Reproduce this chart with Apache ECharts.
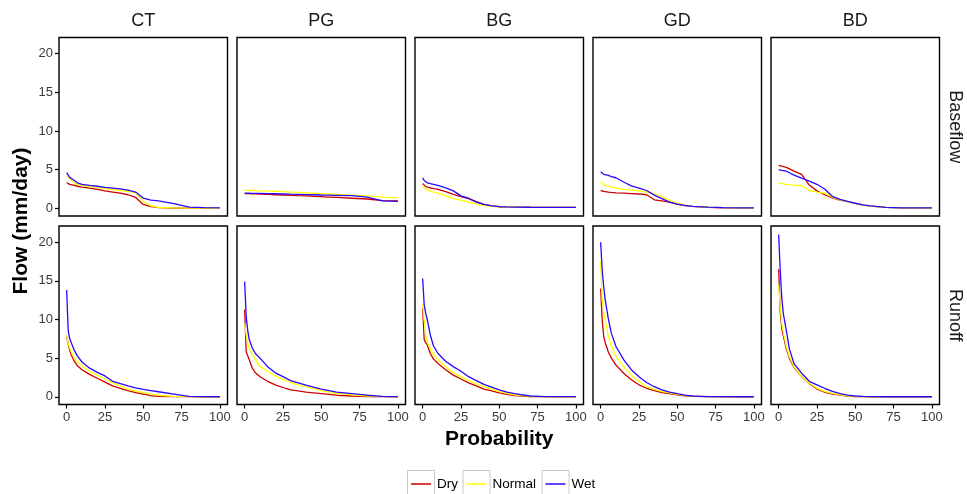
<!DOCTYPE html>
<html>
<head>
<meta charset="utf-8">
<script src="https://cdn.jsdelivr.net/npm/echarts@6/dist/echarts.min.js"></script>
<style>
html,body{margin:0;padding:0;background:#fff;}
#chart{width:967px;height:494px;}
</style>
</head>
<body>
<div id="chart"></div>
<script>
// ---- data ----
var stations = ['CT', 'PG', 'BG', 'GD', 'BD'];
var components = ['Baseflow', 'Runoff'];
var classes = ['Dry', 'Normal', 'Wet'];
var xTicks = [0, 25, 50, 75, 100];
var yTicks = [0, 5, 10, 15, 20];
var prob = [0, 1, 2, 3, 5, 7, 10, 15, 20, 25, 30, 35, 40, 45, 50, 55, 60, 70, 80, 90, 100];

// Baseflow
var ct_base_dry    = [3.3, 3.2, 3.1, 3.05, 2.95, 2.85, 2.75, 2.6, 2.45, 2.25, 2.1, 1.95, 1.75, 1.4, 0.5, 0.2, 0.08, 0.03, 0.02, 0.01, 0.0];
var ct_base_normal = [4.2, 4.0, 3.8, 3.6, 3.3, 3.1, 2.95, 2.8, 2.7, 2.55, 2.4, 2.3, 2.2, 2.0, 0.9, 0.3, 0.1, 0.04, 0.02, 0.01, 0.0];
var ct_base_wet    = [4.6, 4.3, 4.0, 3.9, 3.6, 3.3, 3.1, 2.95, 2.85, 2.7, 2.6, 2.5, 2.35, 2.1, 1.3, 1.05, 0.95, 0.6, 0.15, 0.08, 0.05];

var pg_base_dry    = [1.9, 1.9, 1.9, 1.9, 1.88, 1.87, 1.85, 1.8, 1.75, 1.72, 1.68, 1.63, 1.6, 1.55, 1.5, 1.45, 1.4, 1.3, 1.2, 1.0, 0.95];
var pg_base_normal = [2.35, 2.33, 2.32, 2.3, 2.3, 2.28, 2.25, 2.22, 2.2, 2.15, 2.1, 2.05, 2.0, 1.95, 1.9, 1.85, 1.8, 1.7, 1.6, 1.45, 1.35];
var pg_base_wet    = [1.95, 1.95, 1.95, 1.95, 1.94, 1.93, 1.92, 1.9, 1.88, 1.85, 1.82, 1.8, 1.77, 1.75, 1.72, 1.7, 1.68, 1.64, 1.45, 0.95, 0.9];

var bg_base_dry    = [3.2, 3.0, 2.8, 2.75, 2.65, 2.55, 2.45, 2.15, 1.8, 1.5, 1.25, 0.85, 0.5, 0.3, 0.2, 0.17, 0.15, 0.13, 0.12, 0.12, 0.12];
var bg_base_normal = [2.95, 2.7, 2.45, 2.4, 2.25, 2.1, 1.95, 1.6, 1.25, 1.05, 0.8, 0.55, 0.35, 0.25, 0.2, 0.17, 0.15, 0.13, 0.12, 0.12, 0.12];
var bg_base_wet    = [3.95, 3.6, 3.4, 3.3, 3.2, 3.1, 2.95, 2.65, 2.25, 1.6, 1.3, 0.8, 0.5, 0.3, 0.2, 0.17, 0.15, 0.13, 0.12, 0.12, 0.12];

var gd_base_dry    = [2.3, 2.25, 2.2, 2.15, 2.1, 2.05, 2.0, 1.95, 1.9, 1.85, 1.75, 1.1, 0.95, 0.8, 0.55, 0.35, 0.25, 0.12, 0.06, 0.05, 0.05];
var gd_base_normal = [3.5, 3.2, 3.0, 2.95, 2.85, 2.75, 2.65, 2.45, 2.35, 2.25, 2.1, 1.85, 1.5, 1.05, 0.65, 0.4, 0.25, 0.15, 0.08, 0.05, 0.05];
var gd_base_wet    = [4.73, 4.5, 4.4, 4.35, 4.25, 4.1, 3.95, 3.4, 2.9, 2.6, 2.3, 1.7, 1.25, 0.8, 0.55, 0.38, 0.25, 0.15, 0.08, 0.05, 0.05];

var bd_base_dry    = [5.55, 5.5, 5.45, 5.4, 5.3, 5.1, 4.8, 4.4, 3.0, 2.25, 1.75, 1.35, 1.05, 0.85, 0.62, 0.42, 0.28, 0.12, 0.06, 0.05, 0.05];
var bd_base_normal = [3.3, 3.25, 3.2, 3.15, 3.1, 3.05, 3.0, 2.95, 2.3, 2.1, 1.95, 1.45, 1.1, 0.85, 0.62, 0.42, 0.28, 0.12, 0.06, 0.05, 0.05];
var bd_base_wet    = [5.0, 4.95, 4.9, 4.85, 4.8, 4.6, 4.3, 3.9, 3.5, 3.1, 2.5, 1.55, 1.15, 0.9, 0.65, 0.45, 0.3, 0.12, 0.06, 0.05, 0.05];

// Runoff
var ct_run_dry    = [7.8, 6.8, 6.0, 5.4, 4.6, 4.0, 3.5, 2.9, 2.4, 1.9, 1.4, 1.1, 0.8, 0.55, 0.35, 0.15, 0.05, 0.02, 0.01, 0.0, 0.0];
var ct_run_normal = [8.0, 6.9, 6.3, 5.8, 5.0, 4.5, 4.0, 3.3, 2.8, 2.3, 1.8, 1.4, 1.0, 0.75, 0.55, 0.35, 0.2, 0.05, 0.02, 0.01, 0.0];
var ct_run_wet    = [13.8, 8.6, 7.5, 7.0, 6.0, 5.3, 4.5, 3.7, 3.15, 2.7, 2.0, 1.7, 1.4, 1.15, 0.95, 0.8, 0.65, 0.35, 0.05, 0.02, 0.0];

var pg_run_dry    = [11.3, 5.8, 5.3, 4.8, 3.7, 3.1, 2.6, 2.0, 1.55, 1.2, 0.9, 0.75, 0.6, 0.5, 0.4, 0.3, 0.2, 0.1, 0.03, 0.01, 0.0];
var pg_run_normal = [9.5, 8.0, 6.9, 6.3, 5.5, 4.8, 3.9, 3.3, 2.7, 2.25, 1.85, 1.55, 1.3, 1.05, 0.8, 0.6, 0.45, 0.25, 0.1, 0.05, 0.02];
var pg_run_wet    = [14.9, 10.4, 8.6, 7.4, 6.3, 5.6, 5.0, 3.9, 3.1, 2.6, 2.1, 1.8, 1.5, 1.25, 1.0, 0.8, 0.6, 0.4, 0.2, 0.05, 0.02];

var bg_run_dry    = [11.5, 7.4, 7.0, 6.7, 5.6, 4.9, 4.3, 3.5, 2.8, 2.3, 1.8, 1.4, 1.0, 0.75, 0.5, 0.3, 0.15, 0.03, 0.01, 0.0, 0.0];
var bg_run_normal = [12.0, 9.9, 7.8, 7.1, 6.2, 5.5, 4.8, 3.9, 3.1, 2.6, 2.1, 1.7, 1.3, 1.0, 0.7, 0.45, 0.25, 0.05, 0.01, 0.0, 0.0];
var bg_run_wet    = [15.3, 11.9, 10.8, 10.0, 8.0, 6.6, 5.6, 4.6, 3.9, 3.3, 2.6, 2.1, 1.6, 1.25, 0.9, 0.6, 0.4, 0.1, 0.02, 0.01, 0.01];

var gd_run_dry    = [14.0, 9.9, 7.8, 7.0, 5.8, 5.0, 4.1, 3.05, 2.2, 1.55, 1.1, 0.8, 0.55, 0.4, 0.25, 0.12, 0.05, 0.01, 0.0, 0.0, 0.0];
var gd_run_normal = [17.5, 12.5, 11.0, 9.9, 7.8, 6.6, 5.2, 3.9, 2.8, 2.0, 1.3, 0.95, 0.7, 0.5, 0.3, 0.18, 0.08, 0.02, 0.01, 0.0, 0.0];
var gd_run_wet    = [20.0, 16.4, 14.2, 12.5, 10.1, 8.2, 6.5, 4.8, 3.5, 2.6, 1.85, 1.3, 0.9, 0.6, 0.4, 0.22, 0.1, 0.02, 0.01, 0.0, 0.0];

var bd_run_dry    = [16.5, 11.0, 8.9, 7.9, 6.2, 5.0, 3.8, 2.6, 1.7, 1.0, 0.6, 0.35, 0.2, 0.08, 0.03, 0.01, 0.0, 0.0, 0.0, 0.0, 0.0];
var bd_run_normal = [14.5, 11.7, 9.5, 8.4, 6.5, 5.2, 3.9, 2.6, 1.75, 1.1, 0.7, 0.45, 0.25, 0.12, 0.05, 0.02, 0.0, 0.0, 0.0, 0.0, 0.0];
var bd_run_wet    = [21.0, 16.4, 12.9, 10.8, 8.6, 6.2, 4.3, 3.05, 2.0, 1.55, 1.1, 0.7, 0.4, 0.22, 0.1, 0.05, 0.02, 0.0, 0.0, 0.0, 0.0];

var panelData = {
  Baseflow: {
    CT: [ct_base_dry, ct_base_normal, ct_base_wet],
    PG: [pg_base_dry, pg_base_normal, pg_base_wet],
    BG: [bg_base_dry, bg_base_normal, bg_base_wet],
    GD: [gd_base_dry, gd_base_normal, gd_base_wet],
    BD: [bd_base_dry, bd_base_normal, bd_base_wet]
  },
  Runoff: {
    CT: [ct_run_dry, ct_run_normal, ct_run_wet],
    PG: [pg_run_dry, pg_run_normal, pg_run_wet],
    BG: [bg_run_dry, bg_run_normal, bg_run_wet],
    GD: [gd_run_dry, gd_run_normal, gd_run_wet],
    BD: [bd_run_dry, bd_run_normal, bd_run_wet]
  }
};

// ---- layout / style ----
var colors = ['#cd0000', '#ffff00', '#2a08ff'];
var FONT = '"Liberation Sans", Arial, Helvetica, sans-serif';
var panelLefts = [59, 237, 415, 593, 771];
var panelW = 168.5;
var rowTops = [37.5, 226];
var panelH = 178.5;

var grids = [], xAxes = [], yAxes = [], series = [];
var idx = 0;
components.forEach(function (comp, r) {
  stations.forEach(function (st, c) {
    grids.push({
      left: panelLefts[c], top: rowTops[r], width: panelW, height: panelH,
      show: true, borderColor: '#000', borderWidth: 1.4, backgroundColor: '#fff',
      containLabel: false
    });
    var bottomRow = (r === components.length - 1);
    var leftCol = (c === 0);
    xAxes.push({
      type: 'value', gridIndex: idx, min: -5, max: 105, position: 'bottom',
      axisLine: { show: false, onZero: false },
      splitLine: { show: false },
      axisTick: { show: bottomRow, length: 4, inside: false, lineStyle: { color: '#000', width: 1.2 }, customValues: xTicks },
      axisLabel: { show: bottomRow, customValues: xTicks, color: '#3a3a3a', fontSize: 13, fontFamily: FONT, margin: 6 }
    });
    yAxes.push({
      type: 'value', gridIndex: idx, min: -1.0, max: 22.1, position: 'left',
      axisLine: { show: false, onZero: false },
      splitLine: { show: false },
      axisTick: { show: leftCol, length: 4, inside: false, lineStyle: { color: '#000', width: 1.2 }, customValues: yTicks },
      axisLabel: { show: leftCol, customValues: yTicks, color: '#3a3a3a', fontSize: 13, fontFamily: FONT, margin: 6 }
    });
    var sets = panelData[comp][st];
    classes.forEach(function (cls, k) {
      series.push({
        name: cls, type: 'line', xAxisIndex: idx, yAxisIndex: idx,
        data: prob.map(function (p, i) { return [p, sets[k][i]]; }),
        showSymbol: false, symbol: 'none', smooth: false,
        lineStyle: { color: colors[k], width: 1.3 },
        itemStyle: { color: colors[k] },
        z: 2 + k, silent: true
      });
    });
    idx++;
  });
});

var graphics = [];
// strip labels (top)
stations.forEach(function (st, c) {
  graphics.push({
    type: 'text', x: panelLefts[c] + panelW / 2, y: 21,
    style: { text: st, fill: '#1a1a1a', font: '18px ' + FONT, align: 'center', verticalAlign: 'middle' }
  });
});
// strip labels (right)
components.forEach(function (comp, r) {
  graphics.push({
    type: 'text', x: 955, y: rowTops[r] + panelH / 2, rotation: -Math.PI / 2,
    style: { text: comp, fill: '#1a1a1a', font: '18px ' + FONT, align: 'center', verticalAlign: 'middle' }
  });
});
// axis titles
graphics.push({
  type: 'text', x: 21, y: (rowTops[0] + rowTops[1] + panelH) / 2, rotation: Math.PI / 2,
  style: { text: 'Flow (mm/day)', fill: '#000', font: 'bold 21px ' + FONT, align: 'center', verticalAlign: 'middle' }
});
graphics.push({
  type: 'text', x: (panelLefts[0] + panelLefts[4] + panelW) / 2, y: 439,
  style: { text: 'Probability', fill: '#000', font: 'bold 21px ' + FONT, align: 'center', verticalAlign: 'middle' }
});
// legend
var legX = [407.5, 463, 542];
classes.forEach(function (cls, k) {
  var x0 = legX[k];
  graphics.push({
    type: 'rect', shape: { x: x0, y: 470.5, width: 27, height: 27 },
    style: { fill: '#fff', stroke: '#c8c8c8', lineWidth: 1 }
  });
  graphics.push({
    type: 'line', shape: { x1: x0 + 3.5, y1: 484, x2: x0 + 23.5, y2: 484 },
    style: { stroke: colors[k], lineWidth: 1.5 }
  });
  graphics.push({
    type: 'text', x: x0 + 29.5, y: 484,
    style: { text: cls, fill: '#000', font: '13.5px ' + FONT, align: 'left', verticalAlign: 'middle' }
  });
});

var chart = echarts.init(document.getElementById('chart'), null, { renderer: 'canvas' });
chart.setOption({
  animation: false,
  backgroundColor: '#fff',
  grid: grids,
  xAxis: xAxes,
  yAxis: yAxes,
  series: series,
  graphic: graphics
});
</script>
</body>
</html>
